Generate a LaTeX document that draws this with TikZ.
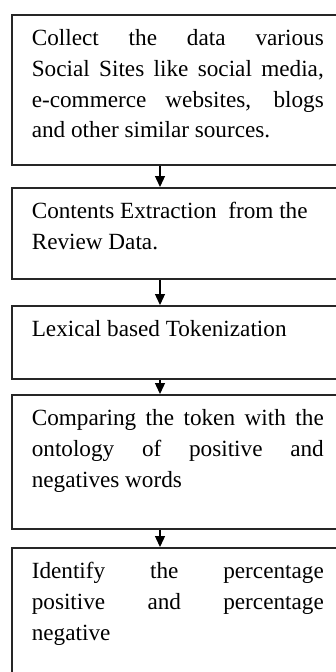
\documentclass[tikz,border=0pt]{standalone}
\usepackage{fontspec}
\setmainfont{Liberation Serif}
\usetikzlibrary{arrows.meta}
\newcommand\boxtext[2]{\parbox[t][#1][t]{292pt}{\fontsize{23.2pt}{30.6pt}\selectfont\rule{0pt}{31pt}#2}}
\newcommand\jline[1]{\makebox[292pt][s]{#1}}
\begin{document}
\begin{tikzpicture}[x=1pt,y=-1pt,
  stepbox/.style={draw=black!85, line width=1.6pt, anchor=north west, inner xsep=20pt, inner ysep=0pt},
  flow/.style={draw=black, line width=1.3pt, -{Triangle[length=11pt,width=10pt]}}]
\useasboundingbox (0,0) rectangle (336,672);
\fill[white] (0,0) rectangle (336,672);
\clip (0,0) rectangle (336,672);
\node[stepbox] (b1) at (11,14) {\boxtext{150pt}{\jline{Collect the data various}\\\jline{Social Sites like social media,}\\\jline{e-commerce websites, blogs}\\and other similar sources.}};
\node[stepbox] (b2) at (11,187) {\boxtext{91pt}{Contents Extraction\ \ from the\\Review Data.}};
\node[stepbox] (b3) at (11,305) {\boxtext{73pt}{Lexical based Tokenization}};
\node[stepbox] (b4) at (11,394) {\boxtext{134pt}{\jline{Comparing the token with the}\\\jline{ontology of positive and}\\negatives words}};
\node[stepbox] (b5) at (11,547) {\boxtext{140pt}{\jline{Identify the percentage}\\\jline{positive and percentage}\\negative}};
\draw[flow] ([xshift=149pt]b1.south west) -- ([xshift=149pt]b2.north west);
\draw[flow] ([xshift=149pt]b2.south west) -- ([xshift=149pt]b3.north west);
\draw[flow] ([xshift=149pt]b3.south west) -- ([xshift=149pt]b4.north west);
\draw[flow] ([xshift=149pt]b4.south west) -- ([xshift=149pt]b5.north west);
\end{tikzpicture}
\end{document}
